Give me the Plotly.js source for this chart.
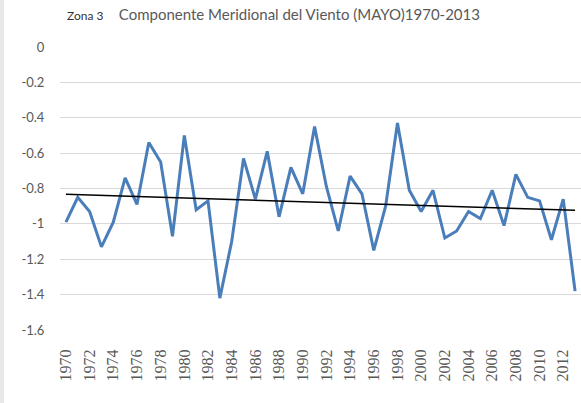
<!DOCTYPE html>
<html>
<head>
<meta charset="utf-8">
<script src="https://cdn.plot.ly/plotly-3.0.1.min.js"></script>
<style>html,body{margin:0;padding:0;background:#fff;}#chart{width:581px;height:403px;}</style>
</head>
<body>
<div id="chart"></div>
<script>
const years = [1970,1971,1972,1973,1974,1975,1976,1977,1978,1979,1980,1981,1982,1983,1984,1985,1986,1987,1988,1989,1990,1991,1992,1993,1994,1995,1996,1997,1998,1999,2000,2001,2002,2003,2004,2005,2006,2007,2008,2009,2010,2011,2012,2013];
const values = [-0.99,-0.85,-0.93,-1.13,-0.99,-0.74,-0.89,-0.54,-0.65,-1.07,-0.50,-0.92,-0.87,-1.42,-1.10,-0.63,-0.86,-0.59,-0.96,-0.68,-0.83,-0.45,-0.79,-1.04,-0.73,-0.83,-1.15,-0.90,-0.43,-0.81,-0.93,-0.81,-1.08,-1.04,-0.93,-0.97,-0.81,-1.01,-0.72,-0.85,-0.87,-1.09,-0.86,-1.38];
const tickYears = [1970,1972,1974,1976,1978,1980,1982,1984,1986,1988,1990,1992,1994,1996,1998,2000,2002,2004,2006,2008,2010,2012];
const yTicks = [0,-0.2,-0.4,-0.6,-0.8,-1,-1.2,-1.4,-1.6];
const yTickText = ['0','-0.2','-0.4','-0.6','-0.8','-1','-1.2','-1.4','-1.6'];
const titleLabel = 'Zona 3';
const titleText = 'Componente Meridional del Viento (MAYO)1970-2013';

// linear least-squares trendline from the data
const n = years.length;
const mx = years.reduce((a,b)=>a+b,0)/n;
const my = values.reduce((a,b)=>a+b,0)/n;
let sxy=0,sxx=0;
for(let i=0;i<n;i++){sxy+=(years[i]-mx)*(values[i]-my);sxx+=(years[i]-mx)*(years[i]-mx);}
const slope = sxy/sxx, icpt = my - slope*mx;
const trendX = [years[0], years[n-1]];
const trendY = trendX.map(x=>icpt+slope*x);

const data = [
  {x: years, y: values, type:'scatter', mode:'lines', line:{color:'#4a7ebb', width:3}, hoverinfo:'x+y'},
  {x: trendX, y: trendY, type:'scatter', mode:'lines', line:{color:'#000000', width:1.5}}
];
const W=581,H=403,L=60,R=0,T=47,B=73;
const pw=W-L-R, ph=H-T-B;
const layout = {
  width:W, height:H,
  margin:{l:L,r:R,t:T,b:B,pad:0},
  paper_bgcolor:'#ffffff', plot_bgcolor:'#ffffff',
  showlegend:false,
  title:{text:'<span style="font-size:12px;fill:#333333">'+titleLabel+'</span>\u00a0\u00a0\u00a0 '+titleText,
    font:{family:'Lato, sans-serif', size:15, color:'#595959'},
    xref:'container', x:67/W, xanchor:'left', yref:'container', y:1-15/H, yanchor:'middle'},
  xaxis:{type:'linear', range:[1969.5,2013.5], tickmode:'array', tickvals:tickYears, ticktext:tickYears.map(String),
    tickangle:-90, showgrid:false, zeroline:false, showline:false, ticks:'outside', ticklen:12, tickcolor:'rgba(0,0,0,0)',
    tickfont:{family:'Liberation Serif, serif', size:16, color:'#595959'}, fixedrange:true},
  yaxis:{range:[-1.6,0], tickmode:'array', tickvals:yTicks, ticktext:yTickText, showgrid:true, gridcolor:'#d9d9d9', gridwidth:1,
    zeroline:false, showline:false, ticks:'outside', ticklen:12, tickcolor:'rgba(0,0,0,0)',
    tickfont:{family:'Lato, sans-serif', size:13, color:'#595959'}, fixedrange:true},
  shapes:[{type:'rect', xref:'paper', yref:'paper', x0:-L/pw, x1:-(L-4)/pw, y0:-B/ph, y1:1+T/ph, fillcolor:'#e8e8e8', line:{width:0}, layer:'below'}]
};
Plotly.newPlot('chart', data, layout, {displayModeBar:false, staticPlot:true});
</script>
</body>
</html>
